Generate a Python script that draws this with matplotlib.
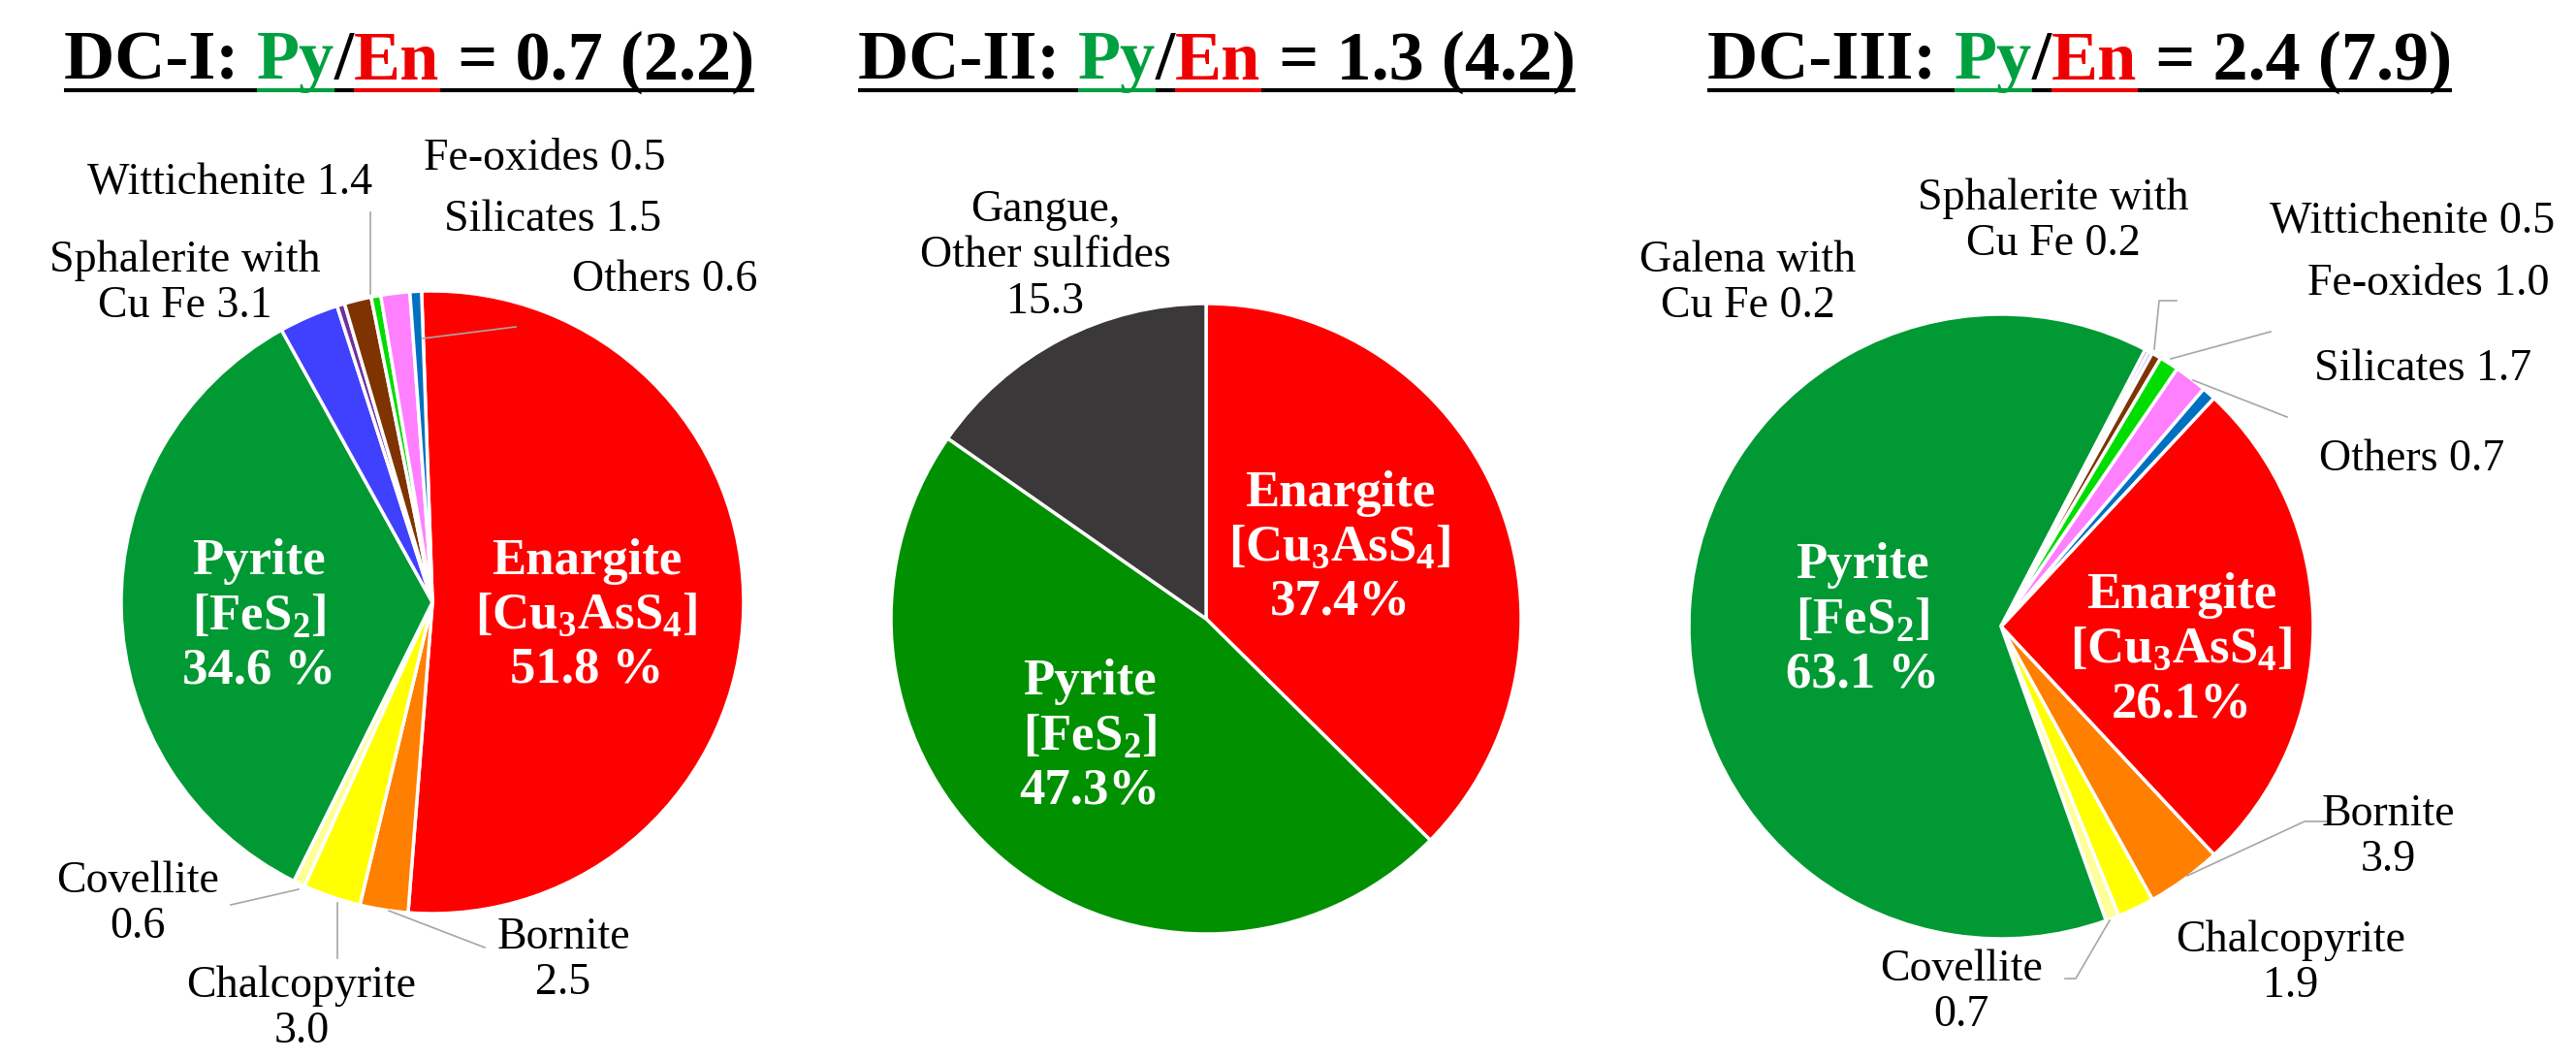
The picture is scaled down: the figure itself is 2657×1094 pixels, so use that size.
import matplotlib
matplotlib.use("Agg")
import matplotlib.pyplot as plt

plt.rcParams['font.family'] = ['Liberation Serif', 'DejaVu Serif']
plt.rcParams['mathtext.fontset'] = 'custom'
plt.rcParams['mathtext.rm'] = 'Liberation Serif'
plt.rcParams['mathtext.bf'] = 'Liberation Serif:bold'

W, H = 2657, 1094

# colours of the minerals
col = {"Enargite": "#FF0000", "Bornite": "#FF7F00", "Chalcopyrite": "#FFFF00",
       "Covellite": "#FFFF99", "Pyrite": "#009933", "Sphalerite": "#4040FF",
       "Galena": "#7030A0", "Wittichenite": "#7F3300", "Fe-oxides": "#00DD00",
       "Silicates": "#FF80FF", "Others": "#0070C0", "Gangue": "#3A3838"}

# DC-I
dc1_names = ["Enargite", "Bornite", "Chalcopyrite", "Covellite", "Pyrite",
             "Sphalerite", "Galena", "Wittichenite", "Fe-oxides", "Silicates", "Others"]
dc1_vals = [51.8, 2.5, 3.0, 0.6, 34.6, 3.1, 0.4, 1.4, 0.5, 1.5, 0.6]
# DC-II
dc2_names = ["Enargite", "Pyrite", "Gangue"]
dc2_vals = [37.4, 47.3, 15.3]
# DC-III
dc3_names = ["Enargite", "Bornite", "Chalcopyrite", "Covellite", "Pyrite",
             "Galena", "Sphalerite", "Wittichenite", "Fe-oxides", "Silicates", "Others"]
dc3_vals = [26.1, 3.9, 1.9, 0.7, 63.1, 0.2, 0.2, 0.5, 1.0, 1.7, 0.7]

titles = [[("DC-I: ", "black"), ("Py", "#00A040"), ("/", "black"), ("En", "#EE0000"), (" = 0.7 (2.2)", "black")],
          [("DC-II: ", "black"), ("Py", "#00A040"), ("/", "black"), ("En", "#EE0000"), (" = 1.3 (4.2)", "black")],
          [("DC-III: ", "black"), ("Py", "#00A040"), ("/", "black"), ("En", "#EE0000"), (" = 2.4 (7.9)", "black")]]


fig = plt.figure(figsize=(W / 100, H / 100), dpi=100)
ax = fig.add_axes([0, 0, 1, 1])
ax.set_xlim(0, W)
ax.set_ylim(0, H)
ax.set_aspect('equal')
ax.axis('off')


def Y(y):
    return H - y


def draw_pie(names, vals, cx, cy, r, start, pyr_col=None):
    colors = [col[n] for n in names]
    if pyr_col:
        colors = [pyr_col if n == "Pyrite" else c for n, c in zip(names, colors)]
    ax.pie(vals, colors=colors, startangle=start, counterclock=False, center=(cx, Y(cy)),
           radius=r, wedgeprops=dict(edgecolor="white", linewidth=2.5), frame=True)


draw_pie(dc1_names, dc1_vals, 446, 621, 321, 92)
draw_pie(dc2_names, dc2_vals, 1244, 638, 325, 90, pyr_col="#009000")
draw_pie(dc3_names, dc3_vals, 2064, 646, 322, 47)
ax.set_xlim(0, W)
ax.set_ylim(0, H)
ax.axis('off')

lab = dict(fontsize=33, ha='center', va='center', multialignment='center', linespacing=1.15)
inner = dict(fontsize=38, ha='center', va='center', color='white', fontweight='bold', linespacing=1.2)
enarg = 'Enargite\n[Cu$_\\mathbf{3}$AsS$_\\mathbf{4}$]\n'
pyr = 'Pyrite\n[FeS$_\\mathbf{2}$]\n'

# DC-I labels
ax.text(267, Y(635), pyr + '34.6 %', **inner)
ax.text(605, Y(635), enarg + '51.8 %', **inner)
ax.text(384, Y(189), 'Wittichenite 1.4', fontsize=33, ha='right', va='center')
ax.text(191, Y(292), 'Sphalerite with\nCu Fe 3.1', **lab)
ax.text(562, Y(164), 'Fe-oxides 0.5', **lab)
ax.text(570, Y(227), 'Silicates 1.5', **lab)
ax.text(686, Y(289), 'Others 0.6', **lab)
ax.text(142, Y(932), 'Covellite\n0.6', **lab)
ax.text(311, Y(1040), 'Chalcopyrite\n3.0', **lab)
ax.text(581, Y(990), 'Bornite\n2.5', **lab)
leaders1 = [[(238, 933), (308, 917)], [(348, 931), (348, 988)], [(401, 939), (500, 977)],
            [(436, 349), (532, 337)], [(382, 219), (382, 303)]]

# DC-II labels
ax.text(1382, Y(565), enarg + '37.4%', **inner)
ax.text(1124, Y(759), pyr + '47.3%', **inner)
ax.text(1078, Y(264), 'Gangue,\nOther sulfides\n15.3', **lab)

# DC-III labels
ax.text(1921, Y(639), pyr + '63.1 %', **inner)
ax.text(2250, Y(670), enarg + '26.1%', **inner)
ax.text(1803, Y(292), 'Galena with\nCu Fe 0.2', **lab)
ax.text(2118, Y(228), 'Sphalerite with\nCu Fe 0.2', **lab)
ax.text(2488, Y(229), 'Wittichenite 0.5', **lab)
ax.text(2505, Y(293), 'Fe-oxides 1.0', **lab)
ax.text(2499, Y(381), 'Silicates 1.7', **lab)
ax.text(2488, Y(474), 'Others 0.7', **lab)
ax.text(2463, Y(863), 'Bornite\n3.9', **lab)
ax.text(2363, Y(993), 'Chalcopyrite\n1.9', **lab)
ax.text(2023, Y(1023), 'Covellite\n0.7', **lab)
leaders3 = [[(2256, 903), (2377, 847), (2400, 847)], [(2176, 949), (2141, 1009), (2130, 1009)],
            [(2222, 360), (2227, 310), (2245, 310)], [(2239, 370), (2342, 342)],
            [(2262, 392), (2359, 430)]]

for seg in leaders1 + leaders3:
    ax.plot([p[0] for p in seg], [Y(p[1]) for p in seg], color="#A6A6A6", lw=1.2)

# titles made of coloured pieces, underlined
fig.canvas.draw()
rend = fig.canvas.get_renderer()
inv = ax.transData.inverted()
for parts, xc in zip(titles, [422, 1255, 2145]):
    txts = []
    x = 0
    for s, c in parts:
        t = ax.text(x, Y(64), s, color=c, fontsize=52, fontweight='bold', va='center', ha='left')
        bb = t.get_window_extent(rend)
        x = inv.transform((bb.x1, 0))[0]
        txts.append(t)
    shift = xc - x / 2
    for t in txts:
        t.set_x(t.get_position()[0] + shift)
    fig.canvas.draw()
    for t, (s, c) in zip(txts, parts):
        bb = t.get_window_extent(rend)
        x0 = inv.transform((bb.x0, 0))[0]
        x1 = inv.transform((bb.x1, 0))[0]
        uc = c if s in ("Py", "En") else "black"
        ax.plot([x0, x1], [Y(93), Y(93)], color=uc, lw=3, solid_capstyle='butt')

fig.savefig("out.png", dpi=100)
